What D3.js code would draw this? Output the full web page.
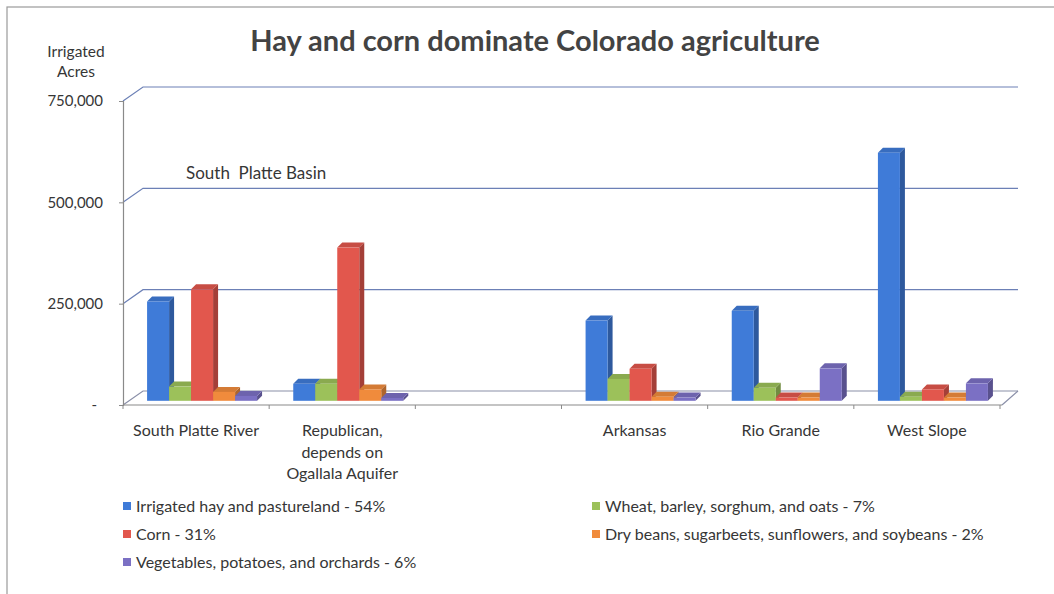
<!DOCTYPE html>
<html>
<head>
<meta charset="utf-8">
<script src="https://cdn.jsdelivr.net/npm/d3@7"></script>
<style>
  body { margin: 0; background: #fff; }
  text { font-family: Lato, "Open Sans", sans-serif; fill: #363636; }
</style>
</head>
<body>
<svg id="chart" width="1054" height="594"></svg>
<script>
// regions along the x axis; the empty slot is the gap before the Arkansas basin
const regions = ['South Platte River', 'Republican', 'gap', 'Arkansas', 'Rio Grande', 'West Slope'];
const regionLines = [['South Platte River'], ['Republican,', 'depends on', 'Ogallala Aquifer'], [], ['Arkansas'], ['Rio Grande'], ['West Slope']];

// irrigated acres per crop group
const hay = [245000, 42000, null, 198000, 222000, 612000];
const grain = [35000, 42000, null, 54000, 32000, 10000];
const corn = [275000, 378000, null, 79000, 8000, 28000];
const beans = [22000, 28000, null, 10000, 8000, 8000];
const vegetables = [12000, 7000, null, 8000, 80000, 43000];

const seriesNames = ['Irrigated hay and pastureland - 54%', 'Wheat, barley, sorghum, and oats - 7%', 'Corn - 31%',
  'Dry beans, sugarbeets, sunflowers, and soybeans - 2%', 'Vegetables, potatoes, and orchards - 6%'];
const seriesValues = [hay, grain, corn, beans, vegetables];
const colors = ['#3f7bd8', '#9cc15a', '#e2574d', '#f08b3c', '#7b70c4'];

const yTicks = [0, 250000, 500000, 750000];

const svg = d3.select('#chart');

// frame
svg.append('rect').attr('x', 7).attr('y', 7).attr('width', 1200).attr('height', 800)
  .attr('fill', 'none').attr('stroke', '#9a9a9a').attr('stroke-width', 1.2);

// title
svg.append('text').attr('x', 535).attr('y', 51).attr('text-anchor', 'middle')
  .style('font-size', '29px').style('font-weight', 'bold').style('fill', '#434343')
  .text('Hay and corn dominate Colorado agriculture');

// axis title
svg.append('text').attr('x', 76).attr('y', 57).attr('text-anchor', 'middle').style('font-size', '15.5px').text('Irrigated');
svg.append('text').attr('x', 76).attr('y', 77).attr('text-anchor', 'middle').style('font-size', '15.5px').text('Acres');

// plot geometry: front edge and the depth offset of the back wall
const left = 123, right = 1000;
const depthX = 20, depthY = -14;

const x = d3.scaleBand().domain(regions).range([left, right]);
const y = d3.scaleLinear().domain([0, 750000]).range([405, 101]);

// back wall gridlines + diagonals on the side wall
const grid = svg.append('g');
yTicks.forEach(t => {
  const yy = y(t);
  grid.append('path')
    .attr('d', `M${left},${yy}L${left + depthX},${yy + depthY}L${right + depthX - 2},${yy + depthY}`)
    .attr('fill', 'none').attr('stroke', t === 0 ? '#8a8fa8' : '#6c80b6').attr('stroke-width', 1.2);
});
// floor right edge
grid.append('path')
  .attr('d', `M${right + depthX - 2},${y(0) + depthY}L${right + 2},${y(0)}`)
  .attr('fill', 'none').attr('stroke', '#8a8fa8').attr('stroke-width', 1.2);

// y axis
const yAxis = svg.append('g').attr('transform', `translate(${left},0)`)
  .call(d3.axisLeft(y).tickValues(yTicks).tickSize(4).tickPadding(16)
    .tickFormat(d => d === 0 ? '-' : d3.format(',')(d)));
yAxis.select('.domain').attr('stroke', '#8a8a8a').attr('stroke-width', 1.2);
yAxis.selectAll('.tick line').attr('stroke', '#8a8a8a');
yAxis.selectAll('.tick text').style('font-size', '15px').style('fill', '#363636')
  .style('font-family', 'Lato, sans-serif')
  .attr('dx', d => d === 0 ? -6 : 0);

// x axis with ticks on the band boundaries
const xAxis = svg.append('g').attr('transform', `translate(0,${y(0)})`);
xAxis.append('line').attr('x1', left).attr('x2', right + 2).attr('stroke', '#8a8a8a').attr('stroke-width', 1.2);
xAxis.selectAll('line.tick').data(regions.concat(['end']))
  .join('line').attr('class', 'tick')
  .attr('x1', (d, i) => left + i * x.bandwidth()).attr('x2', (d, i) => left + i * x.bandwidth())
  .attr('y1', 0).attr('y2', 4).attr('stroke', '#8a8a8a');
xAxis.selectAll('text.label').data(regions)
  .join('text').attr('class', 'label')
  .attr('text-anchor', 'middle').style('font-size', '16px')
  .attr('transform', d => `translate(${x(d) + x.bandwidth() / 2},31)`)
  .selectAll('tspan').data((d, i) => regionLines[i])
  .join('tspan').attr('x', 0).attr('y', (d, i) => i * 21.5).text(d => d);

// bars: each sits a third of the way into the floor depth
const barW = 22, barDX = 5, barDY = -5;
const sub = d3.scaleBand().domain(d3.range(seriesNames.length)).range([0, barW * seriesNames.length]);
const pad = (x.bandwidth() - sub.range()[1]) / 2;
const f = 0.3;
const shiftX = depthX * f, shiftY = depthY * f;

const bars = svg.append('g');
regions.forEach((r, ci) => {
  seriesValues.forEach((vals, si) => {
    const v = vals[ci];
    if (v == null) return;
    const x0 = x(r) + pad + sub(si) + shiftX;
    const x1 = x0 + sub.bandwidth();
    const yb = y(0) + shiftY;
    const yt = y(v) + shiftY;
    const c = d3.color(colors[si]);
    const g = bars.append('g');
    g.append('path')
      .attr('d', `M${x1},${yb}L${x1 + barDX},${yb + barDY}L${x1 + barDX},${yt + barDY}L${x1},${yt}Z`)
      .attr('fill', c.darker(0.9));
    g.append('path')
      .attr('d', `M${x0},${yt}L${x0 + barDX},${yt + barDY}L${x1 + barDX},${yt + barDY}L${x1},${yt}Z`)
      .attr('fill', c.darker(0.35));
    g.append('rect').attr('x', x0).attr('y', yt).attr('width', sub.bandwidth()).attr('height', yb - yt)
      .attr('fill', c);
  });
});

// basin annotation
svg.append('text').attr('x', 186).attr('y', 179).style('font-size', '17px').style('white-space', 'pre')
  .text('South  Platte Basin');

// legend in two columns
const legendPos = [[123, 0], [592, 0], [123, 1], [592, 1], [123, 2]];
const legend = svg.append('g').selectAll('g').data(seriesNames).join('g')
  .attr('transform', (d, i) => `translate(${legendPos[i][0]},${506 + legendPos[i][1] * 28})`);
legend.append('rect').attr('x', 0).attr('y', -4).attr('width', 8).attr('height', 8)
  .attr('fill', (d, i) => colors[i]);
legend.append('text').attr('x', 13).attr('y', 6).style('font-size', '16px').text(d => d);
</script>
</body>
</html>
